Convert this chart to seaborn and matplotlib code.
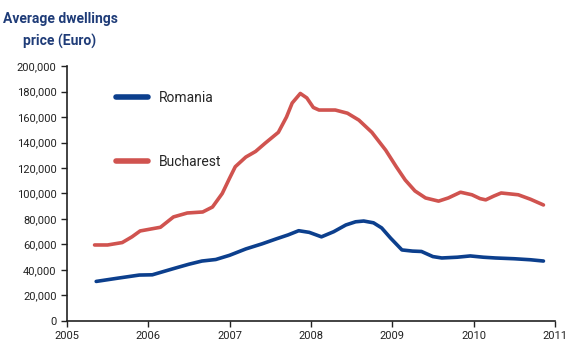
import matplotlib
import pandas as pd
import seaborn as sns

matplotlib.use("Agg")

import matplotlib.pyplot as plt

# values (year fraction, Euro)
romania_years = [2005.36, 2005.62, 2005.89, 2006.05, 2006.2, 2006.34, 2006.5, 2006.66, 2006.83,
                 2007.0, 2007.2, 2007.4, 2007.57, 2007.72, 2007.85, 2007.98, 2008.13, 2008.28,
                 2008.43, 2008.55, 2008.65, 2008.77, 2008.87, 2008.98, 2009.12, 2009.25, 2009.36,
                 2009.5, 2009.61, 2009.8, 2009.96, 2010.12, 2010.27, 2010.5, 2010.7, 2010.86]
romania_price = [31000, 33500, 36000, 36200, 39000, 41600, 44500, 47000, 48200,
                 51500, 56500, 60500, 64300, 67500, 70800, 69500, 66000, 70000,
                 75300, 77800, 78400, 77000, 73000, 65000, 55700, 54800, 54500,
                 50500, 49400, 50000, 51000, 50000, 49400, 48800, 48000, 47000]

bucharest_years = [2005.34, 2005.5, 2005.68, 2005.8, 2005.9, 2006.02, 2006.15, 2006.31, 2006.48,
                   2006.67, 2006.79, 2006.91, 2007.0, 2007.07, 2007.2, 2007.32, 2007.44, 2007.6,
                   2007.7, 2007.77, 2007.87, 2007.95, 2008.03, 2008.1, 2008.3, 2008.45, 2008.59,
                   2008.75, 2008.92, 2009.05, 2009.16, 2009.28, 2009.41, 2009.57, 2009.69, 2009.84,
                   2009.98, 2010.08, 2010.15, 2010.25, 2010.34, 2010.55, 2010.7, 2010.86]
bucharest_price = [59600, 59600, 61500, 66000, 70600, 72000, 73500, 81600, 84700,
                   85500, 89400, 100000, 112000, 121000, 128600, 133000, 139600, 148000,
                   160000, 171000, 178500, 175000, 167500, 165500, 165500, 163000, 157600,
                   148000, 134000, 121000, 110600, 102000, 96500, 94000, 96500, 101000,
                   99000, 96000, 95000, 98000, 100400, 99000, 95500, 91000]

y_ticks = list(range(0, 200001, 20000))
x_ticks = list(range(2005, 2012))

df = pd.concat([
    pd.DataFrame({"year": romania_years, "price": romania_price, "series": "Romania"}),
    pd.DataFrame({"year": bucharest_years, "price": bucharest_price, "series": "Bucharest"}),
])

sns.set_style("ticks")
plt.rcParams["font.family"] = ["Roboto", "DejaVu Sans"]

fig = plt.figure(figsize=(5.72, 3.61), dpi=100)
ax = fig.add_axes([0.117, 0.111, 0.853, 0.706])

sns.lineplot(data=df, x="year", y="price", hue="series",
             palette={"Romania": "#0c3f8d", "Bucharest": "#d0534f"},
             linewidth=2.6, ax=ax, sort=True)

ax.set_xlim(2005, 2011)
ax.set_ylim(0, 200000)
ax.set_xticks(x_ticks)
ax.set_yticks(y_ticks)
ax.set_yticklabels([f"{v:,}" for v in y_ticks])
ax.set_xlabel("")
ax.set_ylabel("")
ax.tick_params(axis="both", labelsize=8, colors="#222222", length=4, width=1)
sns.despine(ax=ax)
for side in ("left", "bottom"):
    ax.spines[side].set_color("#222222")
    ax.spines[side].set_linewidth(1.2)

leg = ax.legend(loc="upper left", bbox_to_anchor=(0.075, 0.95), frameon=False,
                handlelength=2.3, handletextpad=0.8, labelspacing=3.6, fontsize=10)
for line in leg.get_lines():
    line.set_linewidth(4.0)
    line.set_solid_capstyle("round")

fig.text(0.105, 0.915, "Average dwellings\nprice (Euro)", ha="center", va="center",
         fontsize=10, fontweight="bold", color="#1f3c78", linespacing=1.7)

fig.savefig("out.png", dpi=100)
